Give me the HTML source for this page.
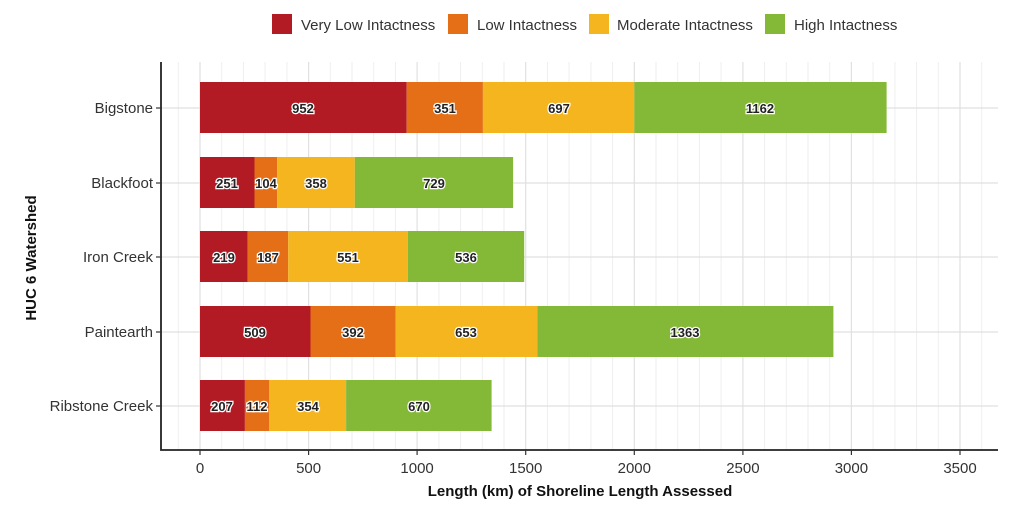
<!DOCTYPE html>
<html><head><meta charset="utf-8"><style>
body{margin:0;background:#fff}
text{font-family:"Liberation Sans",sans-serif}
.v{font-size:13px;font-weight:bold;fill:#222;stroke:#fff;stroke-width:2.5px;paint-order:stroke;text-anchor:middle}
.t{font-size:15px;fill:#333}
</style></head><body>
<svg width="1024" height="506" viewBox="0 0 1024 506" xmlns="http://www.w3.org/2000/svg">
<g stroke="#eeeeee" stroke-width="1">
<line x1="178.3" y1="62" x2="178.3" y2="450"/>
<line x1="221.7" y1="62" x2="221.7" y2="450"/><line x1="243.4" y1="62" x2="243.4" y2="450"/><line x1="265.1" y1="62" x2="265.1" y2="450"/><line x1="286.9" y1="62" x2="286.9" y2="450"/>
<line x1="330.3" y1="62" x2="330.3" y2="450"/><line x1="352" y1="62" x2="352" y2="450"/><line x1="373.7" y1="62" x2="373.7" y2="450"/><line x1="395.4" y1="62" x2="395.4" y2="450"/>
<line x1="438.9" y1="62" x2="438.9" y2="450"/><line x1="460.6" y1="62" x2="460.6" y2="450"/><line x1="482.3" y1="62" x2="482.3" y2="450"/><line x1="504" y1="62" x2="504" y2="450"/>
<line x1="547.4" y1="62" x2="547.4" y2="450"/><line x1="569.1" y1="62" x2="569.1" y2="450"/><line x1="590.9" y1="62" x2="590.9" y2="450"/><line x1="612.6" y1="62" x2="612.6" y2="450"/>
<line x1="656" y1="62" x2="656" y2="450"/><line x1="677.7" y1="62" x2="677.7" y2="450"/><line x1="699.4" y1="62" x2="699.4" y2="450"/><line x1="721.1" y1="62" x2="721.1" y2="450"/>
<line x1="764.6" y1="62" x2="764.6" y2="450"/><line x1="786.3" y1="62" x2="786.3" y2="450"/><line x1="808" y1="62" x2="808" y2="450"/><line x1="829.7" y1="62" x2="829.7" y2="450"/>
<line x1="873.1" y1="62" x2="873.1" y2="450"/><line x1="894.9" y1="62" x2="894.9" y2="450"/><line x1="916.6" y1="62" x2="916.6" y2="450"/><line x1="938.3" y1="62" x2="938.3" y2="450"/>
<line x1="981.7" y1="62" x2="981.7" y2="450"/>
</g>
<g stroke="#e0e0e0" stroke-width="1.2">
<line x1="200" y1="62" x2="200" y2="450"/><line x1="308.6" y1="62" x2="308.6" y2="450"/><line x1="417.1" y1="62" x2="417.1" y2="450"/><line x1="525.7" y1="62" x2="525.7" y2="450"/><line x1="634.3" y1="62" x2="634.3" y2="450"/><line x1="742.9" y1="62" x2="742.9" y2="450"/><line x1="851.4" y1="62" x2="851.4" y2="450"/><line x1="960" y1="62" x2="960" y2="450"/>
<line x1="161" y1="108" x2="998" y2="108"/><line x1="161" y1="183" x2="998" y2="183"/><line x1="161" y1="257" x2="998" y2="257"/><line x1="161" y1="332" x2="998" y2="332"/><line x1="161" y1="406" x2="998" y2="406"/>
</g>
<g>
<rect x="200" y="82" width="206.7" height="51" fill="#b31b24"/><rect x="406.7" y="82" width="76.2" height="51" fill="#e46f17"/><rect x="482.9" y="82" width="151.4" height="51" fill="#f4b51f"/><rect x="634.3" y="82" width="252.3" height="51" fill="#84b937"/>
<rect x="200" y="157" width="54.5" height="51" fill="#b31b24"/><rect x="254.5" y="157" width="22.6" height="51" fill="#e46f17"/><rect x="277.1" y="157" width="77.7" height="51" fill="#f4b51f"/><rect x="354.8" y="157" width="158.3" height="51" fill="#84b937"/>
<rect x="200" y="231" width="47.6" height="51" fill="#b31b24"/><rect x="247.6" y="231" width="40.6" height="51" fill="#e46f17"/><rect x="288.2" y="231" width="119.6" height="51" fill="#f4b51f"/><rect x="407.8" y="231" width="116.4" height="51" fill="#84b937"/>
<rect x="200" y="306" width="110.5" height="51" fill="#b31b24"/><rect x="310.5" y="306" width="85.1" height="51" fill="#e46f17"/><rect x="395.6" y="306" width="141.8" height="51" fill="#f4b51f"/><rect x="537.4" y="306" width="296" height="51" fill="#84b937"/>
<rect x="200" y="380" width="44.9" height="51" fill="#b31b24"/><rect x="244.9" y="380" width="24.4" height="51" fill="#e46f17"/><rect x="269.3" y="380" width="76.8" height="51" fill="#f4b51f"/><rect x="346.1" y="380" width="145.5" height="51" fill="#84b937"/>
</g>
<g>
<text class="v" x="303" y="113">952</text><text class="v" x="445" y="113">351</text><text class="v" x="559" y="113">697</text><text class="v" x="760" y="113">1162</text>
<text class="v" x="227" y="188">251</text><text class="v" x="266" y="188">104</text><text class="v" x="316" y="188">358</text><text class="v" x="434" y="188">729</text>
<text class="v" x="224" y="262">219</text><text class="v" x="268" y="262">187</text><text class="v" x="348" y="262">551</text><text class="v" x="466" y="262">536</text>
<text class="v" x="255" y="337">509</text><text class="v" x="353" y="337">392</text><text class="v" x="466" y="337">653</text><text class="v" x="685" y="337">1363</text>
<text class="v" x="222" y="411">207</text><text class="v" x="257" y="411">112</text><text class="v" x="308" y="411">354</text><text class="v" x="419" y="411">670</text>
</g>
<path d="M161 62V450H998" fill="none" stroke="#222" stroke-width="1.8"/>
<g stroke="#333" stroke-width="1.2">
<line x1="156" y1="108" x2="161" y2="108"/><line x1="156" y1="183" x2="161" y2="183"/><line x1="156" y1="257" x2="161" y2="257"/><line x1="156" y1="332" x2="161" y2="332"/><line x1="156" y1="406" x2="161" y2="406"/>
<line x1="200" y1="450" x2="200" y2="455"/><line x1="308.6" y1="450" x2="308.6" y2="455"/><line x1="417.1" y1="450" x2="417.1" y2="455"/><line x1="525.7" y1="450" x2="525.7" y2="455"/><line x1="634.3" y1="450" x2="634.3" y2="455"/><line x1="742.9" y1="450" x2="742.9" y2="455"/><line x1="851.4" y1="450" x2="851.4" y2="455"/><line x1="960" y1="450" x2="960" y2="455"/>
</g>
<g class="t" text-anchor="end">
<text x="153" y="113">Bigstone</text><text x="153" y="188">Blackfoot</text><text x="153" y="262">Iron Creek</text><text x="153" y="337">Paintearth</text><text x="153" y="411">Ribstone Creek</text>
</g>
<g class="t" text-anchor="middle">
<text x="200" y="473">0</text><text x="308.6" y="473">500</text><text x="417.1" y="473">1000</text><text x="525.7" y="473">1500</text><text x="634.3" y="473">2000</text><text x="742.9" y="473">2500</text><text x="851.4" y="473">3000</text><text x="960" y="473">3500</text>
</g>
<text x="580" y="496" text-anchor="middle" style="font-size:15px;font-weight:bold;fill:#111">Length (km) of Shoreline Length Assessed</text>
<text transform="translate(36,258) rotate(-90)" text-anchor="middle" style="font-size:15px;font-weight:bold;fill:#111">HUC 6 Watershed</text>
<rect x="272" y="14" width="20" height="20" fill="#b31b24"/><text class="t" x="301" y="30">Very Low Intactness</text>
<rect x="448" y="14" width="20" height="20" fill="#e46f17"/><text class="t" x="477" y="30">Low Intactness</text>
<rect x="589" y="14" width="20" height="20" fill="#f4b51f"/><text class="t" x="617" y="30">Moderate Intactness</text>
<rect x="765" y="14" width="20" height="20" fill="#84b937"/><text class="t" x="794" y="30">High Intactness</text>
</svg>
</body></html>
